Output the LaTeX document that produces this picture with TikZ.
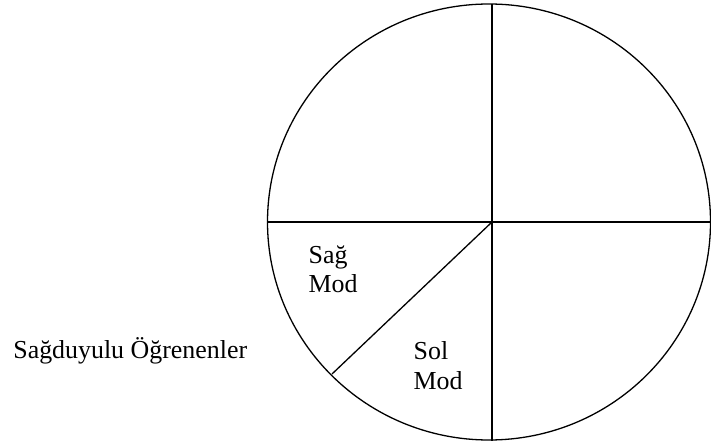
\documentclass[tikz,border=0pt]{standalone}
\usepackage{fontspec}
\setmainfont{Liberation Serif}
\usetikzlibrary{calc}
\tikzset{lbl/.style = {anchor=base west, inner sep=0pt, align=left,
    font=\fontsize{26}{29.5}\selectfont}}

\begin{document}
\begin{tikzpicture}[x=1bp, y=-1bp, line width=1.3bp]
  \useasboundingbox (0,0) rectangle (711,441);
  \coordinate (O) at (492,222);
  \coordinate (W) at (267,222);
  \coordinate (E) at (711,222);
  \coordinate (N) at (492,4);
  \coordinate (S) at (492,441);
  \coordinate (SW) at (332,374);
  \draw (489,222) ellipse [x radius=221.5, y radius=218];
  \draw (W) -- (E) (N) -- (S);
  \draw (O) -- (SW);
  \node[lbl] (sag) at (308,293) {Sağ\\Mod};
  \node[lbl] (sol) at (413,389) {Sol\\Mod};
  \node[lbl] (sagduyulu) at (12.7,358) {Sağduyulu Öğrenenler};
\end{tikzpicture}
\end{document}
